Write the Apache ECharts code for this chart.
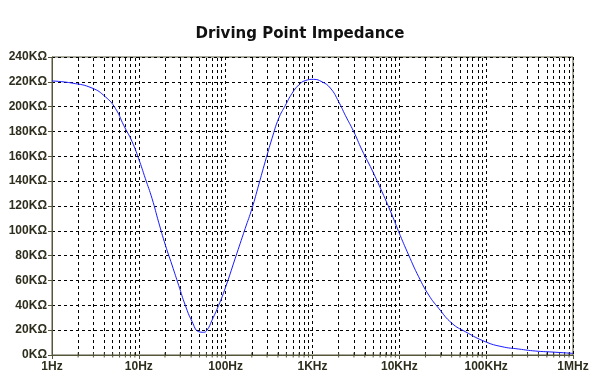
<!DOCTYPE html>
<html>
<head>
<meta charset="utf-8">
<script src="https://cdn.jsdelivr.net/npm/echarts@6/dist/echarts.min.js"></script>
<style>html,body{margin:0;padding:0;background:#fff}#c{width:600px;height:380px}</style>
</head>
<body>
<div id="c"></div>
<script>
// Frequency (Hz) and impedance (KΩ)
const freqHz = [1, 1.7, 2.89, 4.11, 5.36, 6.69, 8.34, 9.96, 11.9, 14.2, 16.9, 20.2, 24.1, 28.8, 34.3, 41, 48.9, 55.8, 61, 69.6, 83, 99.1, 129, 168, 201, 240, 286, 342, 408, 487, 581, 693, 827, 1031, 1286, 1604, 2001, 2388, 2980, 3717, 4846, 6315, 8236, 9825, 12800, 16700, 21800, 28400, 40400, 57500, 97800, 152000, 237000, 368000, 573000, 1000000];
const impedanceK = [220.7, 219, 215, 208, 198.7, 185, 172, 158, 142, 126, 107, 88.6, 72.5, 56, 40, 27, 18.8, 18.3, 20, 28, 40, 54, 78, 102, 118, 137, 156, 174.5, 190.6, 201, 210.7, 217.4, 221, 222, 220, 215, 204, 193, 180, 165, 149, 131.5, 112.8, 99.3, 80.5, 63, 48.3, 37.6, 25.5, 18.8, 10.7, 6.7, 4.8, 3.2, 2.4, 1.3];
const xTickLabels = ['1Hz', '10Hz', '100Hz', '1KHz', '10KHz', '100KHz', '1MHz'];
const yUnit = 'KΩ';
const decades = [1, 10, 100, 1000, 10000, 100000];
const minorMultiples = [2, 3, 4, 5, 6, 7, 8, 9];

const minorFreqs = [];
decades.forEach(d => minorMultiples.forEach(m => minorFreqs.push(m * d)));

const axisColor = '#55553a';
const labelColor = '#2e2e1e';
const gridDash = { color: '#000', width: 1, type: [3, 3] };

const chart = echarts.init(document.getElementById('c'), null, { renderer: 'canvas' });
chart.setOption({
  animation: false,
  backgroundColor: '#fff',
  title: {
    text: 'Driving Point Impedance',
    left: 'center',
    top: 22,
    textStyle: { fontFamily: 'DejaVu Sans', fontWeight: 'bold', fontSize: 15, color: '#111' }
  },
  grid: { left: 52, right: 27, top: 57, bottom: 25, show: true, borderColor: axisColor, borderWidth: 1, backgroundColor: 'transparent' },
  xAxis: {
    type: 'log',
    logBase: 10,
    min: 1,
    max: 1000000,
    splitNumber: 6,
    axisLine: { lineStyle: { color: axisColor, width: 1 } },
    axisTick: { show: true, length: 4, lineStyle: { color: axisColor } },
    splitLine: { show: true, lineStyle: gridDash },
    axisLabel: {
      color: labelColor, fontFamily: 'Liberation Sans', fontWeight: 'bold', fontSize: 12, margin: 6,
      formatter: v => xTickLabels[Math.round(Math.log10(v))]
    }
  },
  yAxis: {
    type: 'value',
    min: 0,
    max: 240,
    interval: 20,
    axisLine: { show: true, lineStyle: { color: axisColor, width: 1 } },
    axisTick: { show: true, length: 4, lineStyle: { color: axisColor } },
    splitLine: { show: true, lineStyle: gridDash },
    axisLabel: {
      color: labelColor, fontFamily: 'Liberation Sans', fontWeight: 'bold', fontSize: 12, margin: 5,
      formatter: v => v + yUnit
    }
  },
  series: [{
    type: 'line',
    data: freqHz.map((f, i) => [f, impedanceK[i]]),
    showSymbol: false,
    smooth: 0.5,
    lineStyle: { color: '#1a1aff', width: 1 },
    z: 5,
    markLine: {
      silent: true,
      symbol: ['none', 'none'],
      label: { show: false },
      lineStyle: gridDash,
      animation: false,
      data: minorFreqs.map(f => ({ xAxis: f }))
    },
    markPoint: {
      silent: true,
      symbol: 'rect',
      symbolSize: [1, 5],
      label: { show: false },
      itemStyle: { color: axisColor },
      animation: false,
      data: minorFreqs.map(f => ({ coord: [f, 0] }))
    }
  }]
});
</script>
</body>
</html>
